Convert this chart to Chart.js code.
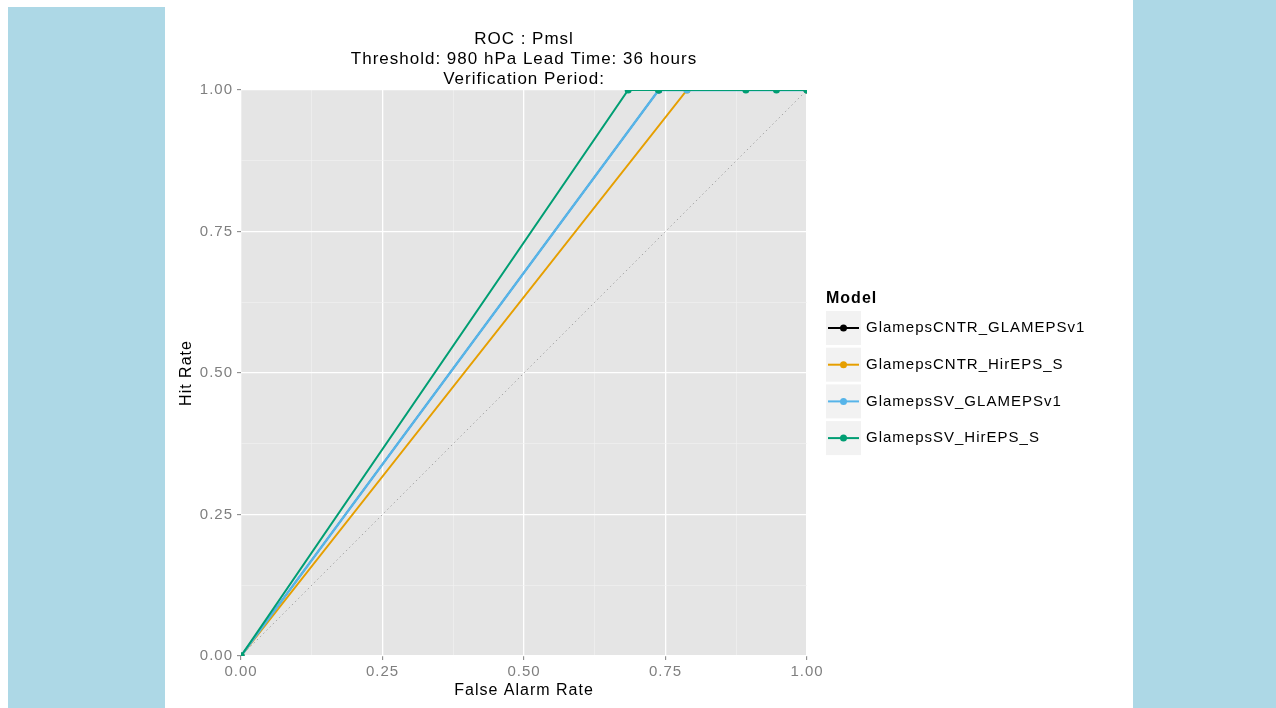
<!DOCTYPE html>
<html>
<head>
<meta charset="utf-8">
<title>ROC : Pmsl</title>
<script src="https://cdn.jsdelivr.net/npm/chart.js@4/dist/chart.umd.min.js"></script>
<style>
  html, body { margin: 0; padding: 0; background: #fff; }
  .page { position: relative; width: 1276px; height: 708px; overflow: hidden; }
  .band { position: absolute; background: #ADD8E6; }
  #bandLeft { left: 8px; top: 7px; width: 157px; height: 701px; }
  #bandRight { left: 1133px; top: 0; width: 143px; height: 708px; }
  #rocChart { position: absolute; left: 0; top: 0; }
</style>
</head>
<body>
<div class="page">
  <div class="band" id="bandLeft"></div>
  <div class="band" id="bandRight"></div>
  <canvas id="rocChart" width="1276" height="708"></canvas>
</div>
<script>
// ── Data ────────────────────────────────────────────────
const titleLines = ['ROC : Pmsl', 'Threshold: 980 hPa Lead Time: 36 hours', 'Verification Period:'];
const legendTitle = 'Model';
const modelNames = ['GlamepsCNTR_GLAMEPSv1', 'GlamepsCNTR_HirEPS_S', 'GlamepsSV_GLAMEPSv1', 'GlamepsSV_HirEPS_S'];
const modelColours = ['#000000', '#E69F00', '#56B4E9', '#009E73'];
const modelLineWidths = [1.4, 2, 2.4, 2];

// false alarm rate / hit rate per model
const farCntrGlameps = [0, 0.738, 1];
const hitCntrGlameps = [0, 1, 1];
const farCntrHirEPS = [0, 0.788, 1];
const hitCntrHirEPS = [0, 1, 1];
const farSvGlameps = [0, 0.738, 0.788, 1];
const hitSvGlameps = [0, 1, 1, 1];
const farSvHirEPS = [0, 0.684, 0.738, 0.892, 0.946, 1];
const hitSvHirEPS = [0, 1, 1, 1, 1, 1];

// no-skill diagonal
const noSkillFar = [0, 1];
const noSkillHit = [0, 1];

const axisTicks = [0, 0.25, 0.5, 0.75, 1];

// ── Helpers ─────────────────────────────────────────────
const FONT = "'Liberation Sans', Arial, sans-serif";
const pairs = (xs, ys) => xs.map((x, i) => ({ x: x, y: ys[i] }));
const isMajor = v => axisTicks.some(t => Math.abs(t - v) < 1e-9);

// major breaks plus the minor ones halfway between
const gridTicks = [];
axisTicks.forEach((t, i) => {
    gridTicks.push(t);
    if (i < axisTicks.length - 1) gridTicks.push((t + axisTicks[i + 1]) / 2);
});

const series = [
    [farCntrGlameps, hitCntrGlameps],
    [farCntrHirEPS, hitCntrHirEPS],
    [farSvGlameps, hitSvGlameps],
    [farSvHirEPS, hitSvHirEPS]
];

const datasets = series.map((s, i) => ({
    label: modelNames[i],
    data: pairs(s[0], s[1]),
    borderColor: modelColours[i],
    backgroundColor: modelColours[i],
    borderWidth: modelLineWidths[i],
    pointRadius: 3.5,
    pointBorderWidth: 0,
    pointHoverRadius: 3.5,
    tension: 0,
    order: series.length - i
}));

datasets.push({
    label: 'no skill',
    data: pairs(noSkillFar, noSkillHit),
    borderColor: '#A8A8A8',
    borderWidth: 1,
    borderDash: [1.5, 3],
    pointRadius: 0,
    order: 10,
    isReference: true
});

function axisOptions(titleText, side) {
    return {
        type: 'linear',
        min: 0,
        max: 1,
        afterBuildTicks: scale => { scale.ticks = gridTicks.map(v => ({ value: v })); },
        ticks: {
            autoSkip: false,
            maxRotation: 0,
            padding: side === 'x' ? 3 : 4,
            color: '#7F7F7F',
            font: { family: FONT, size: 15 },
            callback: v => isMajor(v) ? v.toFixed(2) : ''
        },
        grid: {
            color: ctx => isMajor(ctx.tick.value) ? '#FFFFFF' : '#F2F2F2',
            lineWidth: ctx => isMajor(ctx.tick.value) ? 1.3 : 0.6,
            tickColor: ctx => isMajor(ctx.tick.value) ? '#7F7F7F' : 'rgba(0,0,0,0)',
            tickLength: 4,
            tickWidth: 1
        },
        border: { display: false },
        title: {
            display: true,
            text: titleText,
            color: '#000000',
            font: { family: FONT, size: 16 },
            padding: side === 'x' ? { top: 0, bottom: 2 } : { top: 12, bottom: 0 }
        },
        afterFit: scale => {
            if (side === 'x') scale.height = 46;
            else scale.width = 76;
        }
    };
}

// ── Plugins ─────────────────────────────────────────────
const panelBackground = {
    id: 'panelBackground',
    beforeDraw(chart) {
        const { ctx, chartArea: a } = chart;
        ctx.letterSpacing = '1px';
        ctx.save();
        ctx.fillStyle = '#E5E5E5';
        ctx.fillRect(a.left, a.top, a.right - a.left, a.bottom - a.top);
        ctx.restore();
    }
};

const modelLegend = {
    id: 'modelLegend',
    afterDraw(chart) {
        const ctx = chart.ctx;
        const x0 = 826, keyW = 35, keyH = 34, step = 36.7, firstY = 328;
        ctx.save();
        ctx.textBaseline = 'middle';
        ctx.textAlign = 'left';
        ctx.fillStyle = '#000000';
        ctx.font = 'bold 16px ' + FONT;
        ctx.fillText(legendTitle, x0, 299);
        chart.data.datasets.forEach((ds, i) => {
            if (ds.isReference) return;
            const cy = firstY + i * step;
            ctx.fillStyle = '#F2F2F2';
            ctx.fillRect(x0, cy - keyH / 2, keyW, keyH);
            ctx.strokeStyle = ds.borderColor;
            ctx.lineWidth = 2;
            ctx.beginPath();
            ctx.moveTo(x0 + 2, cy);
            ctx.lineTo(x0 + keyW - 2, cy);
            ctx.stroke();
            ctx.fillStyle = ds.backgroundColor;
            ctx.beginPath();
            ctx.arc(x0 + keyW / 2, cy, 3.5, 0, Math.PI * 2);
            ctx.fill();
            ctx.fillStyle = '#000000';
            ctx.font = '15px ' + FONT;
            ctx.fillText(ds.label, x0 + keyW + 5, cy);
        });
        ctx.restore();
    }
};

// ── Chart ───────────────────────────────────────────────
new Chart(document.getElementById('rocChart'), {
    type: 'line',
    data: { datasets },
    options: {
        responsive: false,
        animation: false,
        layout: { padding: { left: 165, top: 21, right: 469, bottom: 6 } },
        plugins: {
            legend: { display: false },
            tooltip: { enabled: false },
            title: {
                display: true,
                fullSize: false,
                text: titleLines,
                color: '#000000',
                font: { family: FONT, size: 17, weight: 'normal', lineHeight: '20px' },
                padding: { top: 8, bottom: 1 }
            }
        },
        scales: {
            x: axisOptions('False Alarm Rate', 'x'),
            y: axisOptions('Hit Rate', 'y')
        }
    },
    plugins: [panelBackground, modelLegend]
});
</script>
</body>
</html>
